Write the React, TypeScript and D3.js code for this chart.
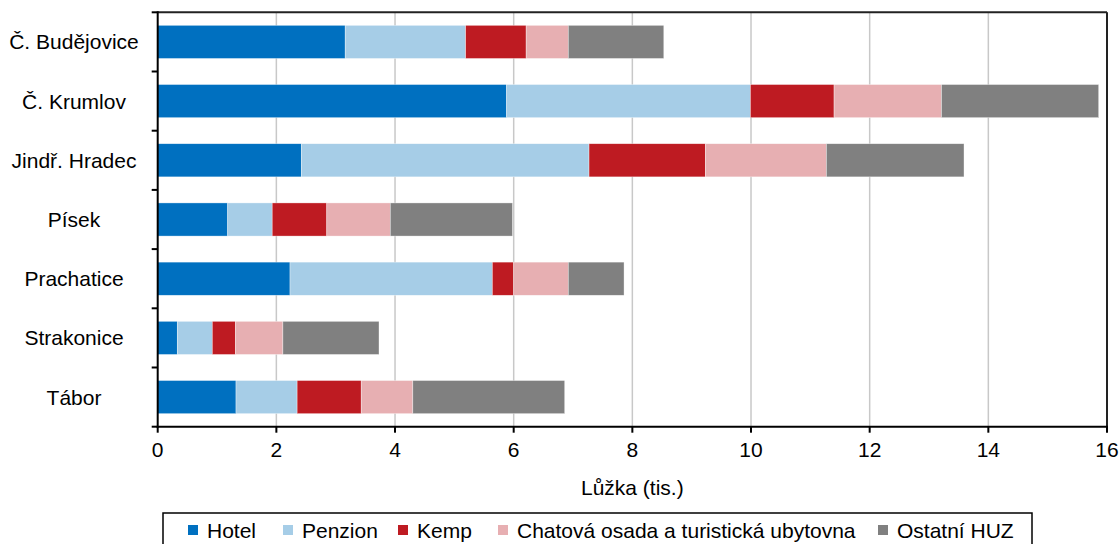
import React from "react";
import * as d3 from "d3";

const categories = ["Č. Budějovice", "Č. Krumlov", "Jindř. Hradec", "Písek", "Prachatice", "Strakonice", "Tábor"];
const seriesNames = ["Hotel", "Penzion", "Kemp", "Chatová osada a turistická ubytovna", "Ostatní HUZ"];
const hotel = [3.16, 5.88, 2.42, 1.18, 2.23, 0.33, 1.32];
const penzion = [2.03, 4.11, 4.85, 0.75, 3.41, 0.59, 1.03];
const kemp = [1.02, 1.41, 1.96, 0.92, 0.36, 0.39, 1.08];
const chatova = [0.71, 1.81, 2.04, 1.07, 0.92, 0.80, 0.87];
const ostatni = [1.61, 2.65, 2.32, 2.06, 0.94, 1.62, 2.56];
const xTicks = [0, 2, 4, 6, 8, 10, 12, 14, 16];
const colors = ["#0070C0", "#A6CDE7", "#BE1B22", "#E7AFB2", "#808080"];

const FONT = "Arial, 'Liberation Sans', sans-serif";

export default function App() {
  const W = 1119, H = 544;
  const left = 157.7, right = 1107, top = 12.3, bottom = 426.7;
  const x = d3.scaleLinear().domain([0, 16]).range([left, right]);
  const y = d3.scaleBand<string>().domain(categories).range([top, bottom]).paddingInner(0.44).paddingOuter(0.22);
  const yOuter = d3.scaleBand<string>().domain(categories).range([top, bottom]);
  const table = categories.map((c, i) => ({ cat: c, s0: hotel[i], s1: penzion[i], s2: kemp[i], s3: chatova[i], s4: ostatni[i] }));
  const stack = d3.stack<any>().keys(["s0", "s1", "s2", "s3", "s4"])(table);

  const legendX = [188, 283, 398, 498, 878];
  const fs = 21;
  return (
    <svg width={W} height={H} style={{ position: "absolute", left: 0, top: 0, background: "#fff" }} fontFamily={FONT}>
      {xTicks.slice(1).map((t) => (
        <line key={"g" + t} x1={x(t)} x2={x(t)} y1={top} y2={bottom} stroke="#c8c8c8" strokeWidth={1.5} />
      ))}
      {stack.map((layer, si) =>
        layer.map((d, ci) => (
          <rect key={si + "-" + ci} x={x(d[0])} y={y(categories[ci])!} width={x(d[1]) - x(d[0])} height={y.bandwidth()}
            fill={colors[si]} stroke="rgba(255,255,255,0.6)" strokeWidth={0.6} />
        ))
      )}
      <line x1={left} x2={right} y1={top} y2={top} stroke="#222" strokeWidth={2} />
      <line x1={right} x2={right} y1={top} y2={bottom} stroke="#222" strokeWidth={2} />
      <line x1={left} x2={left} y1={top - 1} y2={bottom + 1} stroke="#000" strokeWidth={2} />
      <line x1={left - 1} x2={right + 1} y1={bottom} y2={bottom} stroke="#000" strokeWidth={2} />
      {categories.map((c) => (
        <line key={"yt" + c} x1={left - 6} x2={left} y1={yOuter(c)!} y2={yOuter(c)!} stroke="#000" strokeWidth={2} />
      ))}
      <line x1={left - 6} x2={left} y1={bottom} y2={bottom} stroke="#000" strokeWidth={2} />
      {xTicks.map((t) => (
        <g key={"xt" + t}>
          <line x1={x(t)} x2={x(t)} y1={bottom} y2={bottom + 6} stroke="#000" strokeWidth={2} />
          <text x={x(t)} y={bottom + 30} textAnchor="middle" fontSize={fs} fill="#000">{t}</text>
        </g>
      ))}
      {categories.map((c) => (
        <text key={"yl" + c} x={74} y={yOuter(c)! + yOuter.bandwidth() / 2 + 7.5} textAnchor="middle" fontSize={fs} fill="#000">{c}</text>
      ))}
      <text x={(left + right) / 2} y={495} textAnchor="middle" fontSize={fs} fill="#000">Lůžka (tis.)</text>
      <rect x={163} y={513} width={869} height={40} fill="#fff" stroke="#000" strokeWidth={1.5} />
      {seriesNames.map((s, i) => (
        <g key={"lg" + s}>
          <rect x={legendX[i]} y={525} width={10} height={10} fill={colors[i]} />
          <text x={legendX[i] + 19} y={537.5} fontSize={fs} fill="#000">{s}</text>
        </g>
      ))}
    </svg>
  );
}
